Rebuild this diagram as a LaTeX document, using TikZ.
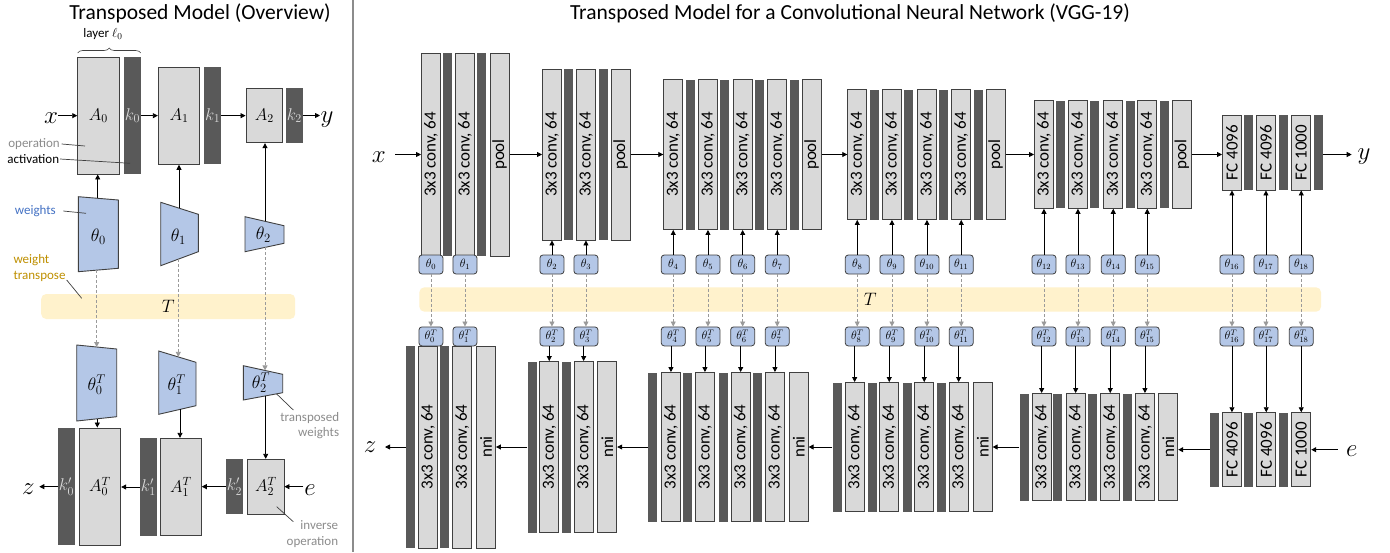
\RequirePackage{fix-cm}
\documentclass[tikz,border=0pt]{standalone}
\usepackage{fontspec}
\setmainfont{Carlito}
\usepackage{graphicx}
\usetikzlibrary{arrows.meta,decorations.pathreplacing,calc}
\definecolor{boxgray}{HTML}{D9D9D9}
\definecolor{darkbar}{HTML}{595959}
\definecolor{wblue}{HTML}{B4C7E7}
\definecolor{bandyel}{HTML}{FFF2CC}
\definecolor{edgec}{HTML}{404040}
\definecolor{txtblue}{HTML}{4472C4}
\definecolor{txtgold}{HTML}{BF9000}
\definecolor{txtgray}{HTML}{8C8C8C}
\definecolor{dashgray}{HTML}{9A9A9A}
\definecolor{sepgray}{HTML}{8C8C8C}
\newcommand\bx[5]{\node[gbox,minimum height=#3pt] (#1) at (#2,#4) {\rotatebox{90}{#5}};}
\newcommand\db[4]{\node[dbar,minimum height=#3pt] (#1) at (#2,#4) {};}
\begin{document}
\begin{tikzpicture}[x=1pt,y=-1pt,
  gbox/.style={draw=edgec,line width=0.9pt,fill=boxgray,minimum width=19pt,inner sep=0pt,anchor=west,font=\fontsize{17}{17}\selectfont},
  dbar/.style={fill=darkbar,draw=none,minimum width=9pt,inner sep=0pt,anchor=west},
  thbox/.style={draw=edgec,line width=0.8pt,fill=wblue,rounded corners=3pt,minimum width=24pt,minimum height=19pt,inner sep=0pt,font=\fontsize{12}{12}\selectfont},
  lbox/.style={draw=edgec,line width=0.9pt,fill=boxgray,inner sep=0pt,font=\fontsize{17}{17}\selectfont},
  kbar/.style={fill=darkbar,draw=none,inner sep=0pt,minimum width=16.5pt,text=boxgray,font=\fontsize{17}{17}\selectfont},
  trap/.style={draw=edgec,line width=0.9pt,fill=wblue},
  band/.style={fill=bandyel,draw=none,rounded corners=5pt,inner sep=0pt,font=\fontsize{18}{18}\selectfont},
  arr/.style={-{Triangle[length=5pt,width=5pt]},line width=0.8pt,black},
  darr/.style={-{Triangle[length=5pt,width=5pt]},line width=0.8pt,dashgray,dash pattern=on 3pt off 2pt},
  big/.style={inner sep=0pt,font=\fontsize{25}{25}\selectfont,anchor=base},
  note/.style={inner sep=0pt,font=\fontsize{13}{15.6}\selectfont},
  pointer/.style={line width=0.7pt,edgec},
  ttl/.style={inner sep=0pt,font=\fontsize{21.5}{21.5}\selectfont}
]
\useasboundingbox (0,0) rectangle (1390,552);
\fill[white] (0,0) rectangle (1390,552);

% titles and separator
\node[ttl] (title1) at (200,13.5) {Transposed Model (Overview)};
\node[ttl] (title2) at (850,13.5) {Transposed Model for a Convolutional Neural Network (VGG-19)};
\draw[sepgray,line width=1.5pt] (353,0) -- (353,552);

% ================= LEFT PANEL =================
\node[band,minimum width=254pt,minimum height=25pt] (TL) at (168.2,306.5) {$T$};

\node[lbox,minimum width=41.3pt,minimum height=116.7pt] (A0) at (98.35,115.65) {$A_0$};
\node[kbar,minimum height=116.7pt] (k0) at (132.5,115.65) {$k_0$};
\node[lbox,minimum width=41.4pt,minimum height=97.3pt] (A1) at (179,115.65) {$A_1$};
\node[kbar,minimum height=97.3pt] (k1) at (212.65,115.65) {$k_1$};
\node[lbox,minimum width=36.7pt,minimum height=54.4pt] (A2) at (264.35,115.5) {$A_2$};
\node[kbar,minimum height=54.4pt] (k2) at (294.35,115.5) {$k_2$};

\node[big] (xL) at (51.2,123.3) {$x$};
\node[big] (yL) at (327,122) {$y$};
\coordinate (xLs) at (58,115.65);
\coordinate (yLe) at (320,115.5);
\draw[arr] (xLs) -- (A0.west);
\draw[arr] (k0.east) -- (A1.west |- k0.east);
\draw[arr] (k1.east) -- (A2.west |- k1.east);
\draw[arr] (k2.east) -- (yLe);

% brace
\draw[decorate,decoration={brace,amplitude=5pt},edgec,line width=0.6pt] (77.7,53) -- (140.7,53);
\node[note] (layer) at (103,34.5) {layer $\ell_0$};

% weights trapezoids
\draw[trap] (78.3,196.7) -- (118.3,200) -- (118.3,268.3) -- (78.3,271.7) -- cycle;
\draw[trap] (160.7,202.3) -- (198.3,214.3) -- (198.3,251.7) -- (160.7,265.7) -- cycle;
\draw[trap] (245,216.7) -- (284,225.7) -- (284,243.3) -- (245,251.7) -- cycle;
\node[inner sep=0pt,font=\fontsize{18}{18}\selectfont] (th0L) at (98.3,237) {$\theta_0$};
\node[inner sep=0pt,font=\fontsize{18}{18}\selectfont] (th1L) at (178.3,237) {$\theta_1$};
\node[inner sep=0pt,font=\fontsize{18}{18}\selectfont] (th2L) at (263.3,235) {$\theta_2$};
\coordinate (th0t) at (97.7,198.3);
\coordinate (th1t) at (179,208.1);
\coordinate (th2t) at (265,221.3);
\draw[arr] (th0t) -- (th0t |- A0.south);
\draw[arr] (th1t) -- (th1t |- A1.south);
\draw[arr] (th2t) -- (th2t |- A2.south);

% transposed trapezoids
\draw[trap] (76.7,345) -- (116.7,349) -- (116.7,416.7) -- (76.7,421) -- cycle;
\draw[trap] (158.7,351) -- (196,362.3) -- (196,405.7) -- (158.7,414.3) -- cycle;
\draw[trap] (243.3,365.7) -- (282.7,374.3) -- (282.7,392.7) -- (243.3,400) -- cycle;
\node[inner sep=0pt,font=\fontsize{18}{18}\selectfont] (th0TL) at (96.7,385) {$\theta_0^T$};
\node[inner sep=0pt,font=\fontsize{18}{18}\selectfont] (th1TL) at (176.7,385) {$\theta_1^T$};
\node[inner sep=0pt,font=\fontsize{18}{18}\selectfont] (th2TL) at (261,383) {$\theta_2^T$};

% dashed transpose arrows (left)
\coordinate (th0b) at (96.7,270.1);
\coordinate (th1b) at (178.3,259.1);
\coordinate (th2b) at (265,247.4);
\coordinate (th0Tt) at (96.7,347);
\coordinate (th1Tt) at (178.3,356.9);
\coordinate (th2Tt) at (265,370.4);
\draw[darr] (th0b) -- (th0Tt);
\draw[darr] (th1b) -- (th1Tt);
\draw[darr] (th2b) -- (th2Tt);

% transposed operations
\node[lbox,minimum width=41.7pt,minimum height=117.3pt] (A0T) at (99.85,486.65) {$A_0^T$};
\node[kbar,minimum height=117.3pt] (k0T) at (66.5,486.65) {$k_0'$};
\node[lbox,minimum width=40.6pt,minimum height=97.4pt] (A1T) at (181,487) {$A_1^T$};
\node[kbar,minimum height=97.4pt] (k1T) at (148.35,487) {$k_1'$};
\node[lbox,minimum width=36.3pt,minimum height=54.7pt] (A2T) at (265.85,486.65) {$A_2^T$};
\node[kbar,minimum height=54.7pt] (k2T) at (234.5,486.65) {$k_2'$};

\coordinate (th0Tb) at (97.3,418.8);
\coordinate (th1Tb) at (180,409.4);
\coordinate (th2Tb) at (265.7,395.8);
\draw[arr] (th0Tb) -- (th0Tb |- A0T.north);
\draw[arr] (th1Tb) -- (th1Tb |- A1T.north);
\draw[arr] (th2Tb) -- (th2Tb |- A2T.north);

\node[big] (zL) at (28.3,494) {$z$};
\node[big] (eL) at (310,495) {$e$};
\coordinate (zLe) at (39.3,486.65);
\coordinate (eLs) at (303.3,486.65);
\draw[arr] (k0T.west) -- (zLe);
\draw[arr] (k1T.west) -- (A0T.east |- k1T.west);
\draw[arr] (k2T.west) -- (A1T.east |- k2T.west);
\draw[arr] (eLs) -- (A2T.east);

% annotations
\node[note,text=txtgray,anchor=east] (opL) at (60,144) {operation};
\draw[pointer] (61.7,144) -- (85,146);
\node[note,anchor=east] (actL) at (59.3,159) {activation};
\draw[pointer] (60,159) -- (130,163.3);
\node[note,text=txtblue,anchor=east] (wL) at (56,211) {weights};
\draw[pointer] (63.3,211) -- (86,213.3);
\node[note,text=txtgold,anchor=west,align=left,font=\fontsize{13}{16}\selectfont] (wtL) at (13.3,268) {weight\\transpose};
\draw[pointer] (66.7,280) -- (81.7,298.3);
\node[note,text=txtgray,anchor=east,align=right] (twL) at (339.3,425.5) {transposed\\weights};
\draw[pointer] (276.7,394) -- (293.3,410);
\node[note,text=txtgray,anchor=east,align=right] (ioL) at (338.3,534) {inverse\\operation};
\draw[pointer] (276.7,506.7) -- (293.3,521.7);

% ================= RIGHT PANEL =================
\node[band,minimum width=901.7pt,minimum height=24.4pt] (TR) at (870.2,299.5) {$T$};

% ---- top row ----
\bx{t0}{421}{203}{154.5}{3x3 conv, 64}
\db{ta0}{443}{203}{154.5}
\bx{t1}{455}{203}{154.5}{3x3 conv, 64}
\db{ta1}{477}{203}{154.5}
\bx{tp1}{489.7}{203}{154.5}{pool}

\bx{t2}{542}{171}{154.5}{3x3 conv, 64}
\db{ta2}{564}{171}{154.5}
\bx{t3}{576}{171}{154.5}{3x3 conv, 64}
\db{ta3}{598.7}{171}{154.5}
\bx{tp2}{610.7}{171}{154.5}{pool}

\bx{t4}{663.3}{150}{154.5}{3x3 conv, 64}
\db{ta4}{685.7}{150}{154.5}
\bx{t5}{698}{150}{154.5}{3x3 conv, 64}
\db{ta5}{720}{150}{154.5}
\bx{t6}{732.7}{150}{154.5}{3x3 conv, 64}
\db{ta6}{754.7}{150}{154.5}
\bx{t7}{767.3}{150}{154.5}{3x3 conv, 64}
\db{ta7}{790}{150}{154.5}
\bx{tp3}{801.7}{150}{154.5}{pool}

\bx{t8}{847.3}{130}{154.5}{3x3 conv, 64}
\db{ta8}{870}{130}{154.5}
\bx{t9}{882}{130}{154.5}{3x3 conv, 64}
\db{ta9}{904}{130}{154.5}
\bx{t10}{917}{130}{154.5}{3x3 conv, 64}
\db{ta10}{939}{130}{154.5}
\bx{t11}{951.3}{130}{154.5}{3x3 conv, 64}
\db{ta11}{974}{130}{154.5}
\bx{tp4}{985.7}{130}{154.5}{pool}

\bx{t12}{1034}{107.6}{154.5}{3x3 conv, 64}
\db{ta12}{1056}{107.6}{154.5}
\bx{t13}{1068}{107.6}{154.5}{3x3 conv, 64}
\db{ta13}{1090}{107.6}{154.5}
\bx{t14}{1103.3}{107.6}{154.5}{3x3 conv, 64}
\db{ta14}{1125.3}{107.6}{154.5}
\bx{t15}{1137.3}{107.6}{154.5}{3x3 conv, 64}
\db{ta15}{1160}{107.6}{154.5}
\bx{tp5}{1172}{107.6}{154.5}{pool}

\bx{t16}{1222}{75}{152.5}{FC 4096}
\db{ta16}{1244}{75}{152.5}
\bx{t17}{1256}{75}{152.5}{FC 4096}
\db{ta17}{1278.7}{75}{152.5}
\bx{t18}{1291.3}{75}{152.5}{FC 1000}
\db{ta18}{1314}{75}{152.5}

\node[big] (xR) at (378.8,162.7) {$x$};
\node[big] (yR) at (1364,159.5) {$y$};
\coordinate (xRs) at (395,154.5);
\coordinate (yRe) at (1351.7,154.5);
\draw[arr] (xRs) -- (t0.west);
\draw[arr] (tp1.east) -- (t2.west);
\draw[arr] (tp2.east) -- (t4.west);
\draw[arr] (tp3.east) -- (t8.west);
\draw[arr] (tp4.east) -- (t12.west);
\draw[arr] (tp5.east) -- (t16.west |- tp5.east);
\draw[arr] (ta18.east |- yRe) -- (yRe);

% ---- bottom row ----
\db{ba0}{406}{202}{447}
\bx{b0}{418}{202}{447}{3x3 conv, 64}
\db{ba1}{440}{202}{447}
\bx{b1}{452.3}{202}{447}{3x3 conv, 64}
\bx{bn1}{476}{202}{447}{nni}

\db{ba2}{527.3}{171}{447}
\bx{b2}{539.3}{171}{447}{3x3 conv, 64}
\db{ba3}{561.3}{171}{447}
\bx{b3}{573.7}{171}{447}{3x3 conv, 64}
\bx{bn2}{597.3}{171}{447}{nni}

\db{ba4}{648}{149}{447}
\bx{b4}{661}{149}{447}{3x3 conv, 64}
\db{ba5}{682.7}{149}{447}
\bx{b5}{695}{149}{447}{3x3 conv, 64}
\db{ba6}{718.3}{149}{447}
\bx{b6}{730.7}{149}{447}{3x3 conv, 64}
\db{ba7}{752.3}{149}{447}
\bx{b7}{765}{149}{447}{3x3 conv, 64}
\bx{bn3}{788.7}{149}{447}{nni}

\db{ba8}{832.3}{129}{447}
\bx{b8}{844.7}{129}{447}{3x3 conv, 64}
\db{ba9}{867.3}{129}{447}
\bx{b9}{879.3}{129}{447}{3x3 conv, 64}
\db{ba10}{902.3}{129}{447}
\bx{b10}{914.3}{129}{447}{3x3 conv, 64}
\db{ba11}{936.3}{129}{447}
\bx{b11}{948.7}{129}{447}{3x3 conv, 64}
\bx{bn4}{972.7}{129}{447}{nni}

\db{ba12}{1019.3}{107}{447}
\bx{b12}{1031.7}{107}{447}{3x3 conv, 64}
\db{ba13}{1052.7}{107}{447}
\bx{b13}{1065.7}{107}{447}{3x3 conv, 64}
\db{ba14}{1088}{107}{447}
\bx{b14}{1100.3}{107}{447}{3x3 conv, 64}
\db{ba15}{1122.3}{107}{447}
\bx{b15}{1135}{107}{447}{3x3 conv, 64}
\bx{bn5}{1158.3}{107}{447}{nni}

\db{ba16}{1210}{74}{449.7}
\bx{b16}{1222}{74}{449.7}{FC 4096}
\db{ba17}{1244}{74}{449.7}
\bx{b17}{1256.3}{74}{449.7}{FC 4096}
\db{ba18}{1279}{74}{449.7}
\bx{b18}{1291.3}{74}{449.7}{FC 1000}

\node[big] (zR) at (370,452.7) {$z$};
\node[big] (eR) at (1351.7,456) {$e$};
\coordinate (zRe) at (385,447);
\coordinate (eRs) at (1337.7,449.7);
\draw[arr] (ba0.west) -- (zRe);
\draw[arr] (ba2.west) -- (bn1.east |- ba2.west);
\draw[arr] (ba4.west) -- (bn2.east |- ba4.west);
\draw[arr] (ba8.west) -- (bn3.east |- ba8.west);
\draw[arr] (ba12.west) -- (bn4.east |- ba12.west);
\draw[arr] (ba16.west) -- (bn5.east |- ba16.west);
\draw[arr] (eRs) -- (b18.east);

% ---- weights and transposed weights ----
\coordinate (rowP) at (0,264.5);
\coordinate (rowQ) at (0,336.4);
\foreach \i in {0,...,18}{
  \node[thbox] (p\i) at (t\i |- rowP) {$\theta_{\i}$};
  \node[thbox] (q\i) at (t\i |- rowQ) {$\theta^{T}_{\i}$};
  \draw[darr] (p\i.south) -- (q\i.north);
}
\foreach \i in {2,...,18}{
  \draw[arr] (t\i.south |- p\i.north) -- (t\i.south);
  \draw[arr] (b\i.north |- q\i.south) -- (b\i.north);
}
\end{tikzpicture}
\end{document}
